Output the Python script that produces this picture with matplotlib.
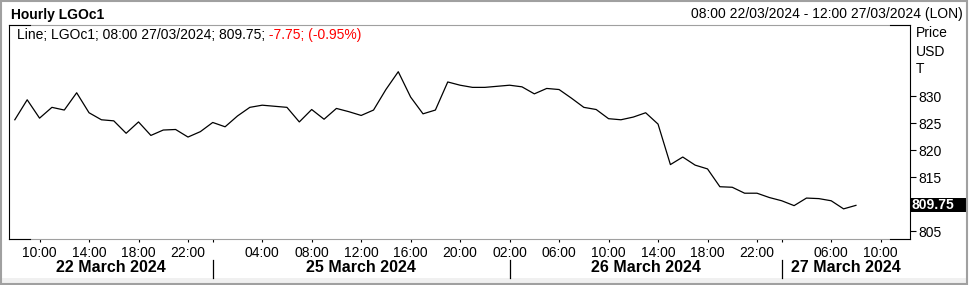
import matplotlib
matplotlib.use("Agg")
import matplotlib.pyplot as plt
import matplotlib.transforms as mtrans
from matplotlib.lines import Line2D
from matplotlib.patches import Rectangle

plt.rcParams['font.family'] = ['Liberation Sans', 'DejaVu Sans']

# trading hours shown per day (weekend and overnight gaps skipped)
day_names = ["22 March 2024", "25 March 2024", "26 March 2024", "27 March 2024"]
day_hours = [list(range(8, 24)), list(range(0, 24)), list(range(2, 24)), list(range(2, 13))]

# hourly LGOc1 price, 08:00 22/03 .. 08:00 27/03
prices = [825.6, 829.3, 825.9, 827.9, 827.4, 830.6, 826.9, 825.6, 825.4, 823.1,
          825.2, 822.7, 823.7, 823.8, 822.4, 823.4, 825.1, 824.3, 826.3, 827.9,
          828.3, 828.1, 827.9, 825.2, 827.5, 825.7, 827.7, 827.1, 826.4, 827.4,
          831.2, 834.5, 829.8, 826.7, 827.4, 832.6, 832.0, 831.6, 831.6, 831.8,
          832.0, 831.7, 830.4, 831.4, 831.2, 829.6, 827.9, 827.5, 825.8, 825.6,
          826.1, 826.9, 824.8, 817.3, 818.7, 817.2, 816.5, 813.2, 813.1, 812.0,
          812.0, 811.2, 810.6, 809.7, 811.1, 811.0, 810.6, 809.1, 809.75]

tick_days = [0, 0, 0, 0, 1, 1, 1, 1, 1, 2, 2, 2, 2, 2, 2, 3, 3]
tick_hours = [10, 14, 18, 22, 4, 8, 12, 16, 20, 2, 6, 10, 14, 18, 22, 6, 10]
y_ticks = [805, 815, 820, 825, 830]
last_price = 809.75

slots = [(d, h) for d, hours in enumerate(day_hours) for h in hours]
x = list(range(len(prices)))
tick_pos = [slots.index((d, h)) for d, h in zip(tick_days, tick_hours)]
tick_labels = ["%02d:00" % h for h in tick_hours]
day_start = [slots.index((d, day_hours[d][0])) for d in range(len(day_names))]

W, H = 969, 285
fig = plt.figure(figsize=(W / 100, H / 100), dpi=100)


def fx(px):
    return px / W


def fy(py):
    return 1 - py / H


ax = fig.add_axes([fx(9), fy(239), fx(910) - fx(9), fy(25) - fy(239)])
ax.plot(x, prices, color='black', lw=0.9)
x0, x1 = -0.47, len(slots) - 1 + 0.37
ax.set_xlim(x0, x1)
ax.set_ylim(803.52, 843.15)

ax.yaxis.tick_right()
ax.set_yticks(y_ticks)
ax.tick_params(axis='y', length=4, width=0.8, pad=2, labelsize=10, colors='black')

ax.set_xticks(tick_pos)
ax.set_xticklabels(tick_labels)
ax.set_xticks(day_start[1:], minor=True)
ax.tick_params(axis='x', which='both', length=2.2, width=0.8, pad=2.5, labelsize=10)

for side in ['left', 'right']:
    ax.spines[side].set_color('black')
    ax.spines[side].set_linewidth(0.8)
for side in ['top', 'bottom']:
    ax.spines[side].set_color('#a0a0a0')
    ax.spines[side].set_linewidth(0.8)

# black frame corners
for xa, xb, yy in [(9, 30, 25), (890, 910, 25), (9, 30, 239), (890, 910, 239)]:
    fig.add_artist(Line2D([fx(xa), fx(xb)], [fy(yy), fy(yy)], color='black', lw=0.8))

# day labels and separators under the time axis
blend = mtrans.blended_transform_factory(ax.transData, fig.transFigure)
bounds = [x0] + day_start[1:] + [x1]
for i, name in enumerate(day_names):
    ax.text((bounds[i] + bounds[i + 1]) / 2, fy(268), name, transform=blend,
            ha='center', va='center', fontsize=11.5, fontweight='bold', clip_on=False)
for s in day_start[1:]:
    fig.add_artist(Line2D([s, s], [fy(260), fy(278)], transform=blend, color='black', lw=0.9))

# bottom band and outer border
fig.add_artist(Rectangle((fx(2), fy(283)), fx(965), 5 / H, facecolor='#f0f0f0',
                         edgecolor='none', transform=fig.transFigure))
fig.add_artist(Rectangle((0.001, 0.002), 0.997, 0.995, facecolor='none',
                         edgecolor='#a0a0a0', lw=1.5, transform=fig.transFigure))

# header texts
fig.text(fx(11), fy(15), "Hourly LGOc1", fontsize=10, fontweight='bold', va='center', ha='left')
fig.text(fx(963), fy(14), "08:00 22/03/2024 - 12:00 27/03/2024 (LON)", fontsize=10,
         va='center', ha='right')
t1 = fig.text(fx(17), fy(35), "Line; LGOc1; 08:00 27/03/2024; 809.75;", fontsize=10,
              va='center', ha='left')
ax.annotate(" -7.75; (-0.95%)", xy=(1, 0), xycoords=t1, va='bottom', ha='left',
            fontsize=10, color='#ff0000', annotation_clip=False)

for label, yy in [("Price", 33), ("USD", 52), ("T", 69)]:
    fig.text(fx(916), fy(yy), label, fontsize=10, va='center', ha='left')

# last price marker on the axis
rblend = mtrans.blended_transform_factory(ax.transAxes, ax.transData)
ax.add_patch(Rectangle((1.0, last_price - 7 / 5.4), 57 / 901, 14 / 5.4, transform=rblend,
                       facecolor='black', edgecolor='none', clip_on=False, zorder=5))
ax.text(1.0 + 2 / 901, last_price, "%.2f" % last_price, transform=rblend, color='white',
        fontsize=10, fontweight='bold', va='center', ha='left', clip_on=False, zorder=6)

fig.savefig("out.png", dpi=100)
